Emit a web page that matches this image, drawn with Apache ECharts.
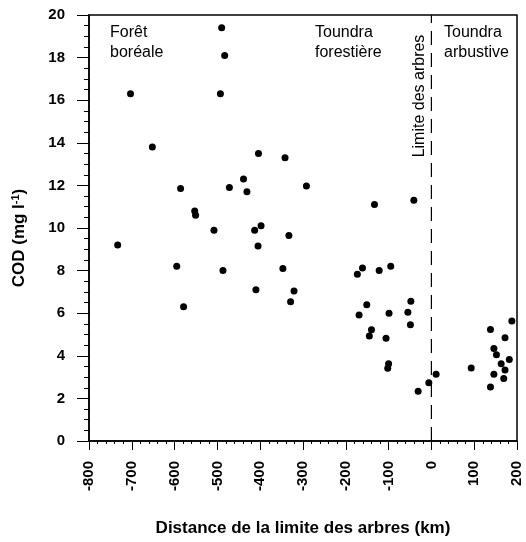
<!DOCTYPE html>
<html>
<head>
<meta charset="utf-8">
<script src="https://cdn.jsdelivr.net/npm/echarts@6/dist/echarts.min.js"></script>
<style>
  html, body { margin: 0; padding: 0; background: #fff; }
  #chart { width: 526px; height: 542px; }
</style>
</head>
<body>
<div id="chart"></div>
<script>
// distance de la limite des arbres (km) / COD (mg l-1)
var borealDist = [-733, -703, -652, -595, -586, -579, -553, -551, -508, -493, -490, -487, -483, -472,
    -439, -431, -413, -410, -405, -404, -398, -347, -342, -333, -329, -321, -292];
var borealCod = [9.2, 16.3, 13.8, 8.2, 11.85, 6.3, 10.8, 10.6, 9.9, 16.3, 19.4, 8.0, 18.1, 11.9,
    12.3, 11.7, 9.9, 7.1, 9.15, 13.5, 10.1, 8.1, 13.3, 9.65, 6.54, 7.04, 11.97];

var forestTundraDist = [-173, -169, -161, -151, -145, -140, -133, -122, -106, -102, -100, -99, -95,
    -55, -49, -48, -41, -31, -6, 11];
var forestTundraCod = [7.83, 5.92, 8.12, 6.4, 4.93, 5.22, 11.1, 8.0, 4.82, 3.41, 3.63, 6.0, 8.2,
    6.05, 5.46, 6.56, 11.3, 2.34, 2.73, 3.13];

var shrubTundraDist = [93, 138, 138, 146, 146, 152, 163, 169, 172, 172, 182, 188];
var shrubTundraCod = [3.43, 5.24, 2.53, 4.34, 3.13, 4.05, 3.63, 2.93, 4.85, 3.33, 3.83, 5.63];

// limite des arbres
var treeLineDist = [0, 0];
var treeLineCod = [0, 20];

var FONT = '"Liberation Sans", Arial, sans-serif';

function pairs(xs, ys) {
    var out = [];
    for (var i = 0; i < xs.length; i++) {
        out.push([xs[i], ys[i]]);
    }
    return out;
}

var chart = echarts.init(document.getElementById('chart'));

var dotStyle = { color: '#000', opacity: 1 };

var option = {
    animation: false,
    backgroundColor: '#fff',
    grid: {
        left: 89, right: 9, top: 15, bottom: 98,
        show: true, borderColor: '#000', borderWidth: 1.5
    },
    xAxis: {
        type: 'value',
        min: -800, max: 200, interval: 100,
        name: 'Distance de la limite des arbres (km)',
        nameLocation: 'middle',
        nameGap: 79,
        nameTextStyle: { fontFamily: FONT, fontSize: 17, fontWeight: 'bold', color: '#000' },
        axisLine: { onZero: false, lineStyle: { color: '#000', width: 1.5 } },
        axisTick: { length: 9, lineStyle: { color: '#000', width: 1 } },
        minorTick: { show: true, splitNumber: 5, length: 3, lineStyle: { color: '#000' } },
        splitLine: { show: false },
        axisLabel: {
            rotate: 90, margin: 20,
            fontFamily: FONT, fontSize: 15, fontWeight: 'bold', color: '#000'
        }
    },
    yAxis: {
        type: 'value',
        min: 0, max: 20, interval: 2,
        name: 'COD (mg l{sup|-1})',
        nameLocation: 'middle',
        nameGap: 60,
        nameTextStyle: {
            fontFamily: FONT, fontSize: 17, fontWeight: 'bold', color: '#000',
            padding: [0, 0, 0, -20],
            rich: { sup: { fontFamily: FONT, fontSize: 11, fontWeight: 'bold', color: '#000', verticalAlign: 'top', padding: [0, 0, 8, 0] } }
        },
        axisLine: { show: true, onZero: false, lineStyle: { color: '#000', width: 1.5 } },
        axisTick: { length: 12, lineStyle: { color: '#000', width: 1 } },
        minorTick: { show: true, splitNumber: 4, length: 5, lineStyle: { color: '#000' } },
        splitLine: { show: false },
        axisLabel: {
            margin: 24,
            fontFamily: FONT, fontSize: 15, fontWeight: 'bold', color: '#000'
        }
    },
    series: [
        {
            name: 'Limite des arbres', type: 'line', silent: true,
            symbol: 'none', z: 1,
            lineStyle: { color: '#000', width: 1.2, type: [14, 8] },
            data: pairs(treeLineDist, treeLineCod)
        },
        {
            name: 'Forêt boréale', type: 'scatter', symbolSize: 7,
            itemStyle: dotStyle,
            data: pairs(borealDist, borealCod)
        },
        {
            name: 'Toundra forestière', type: 'scatter', symbolSize: 7,
            itemStyle: dotStyle,
            data: pairs(forestTundraDist, forestTundraCod)
        },
        {
            name: 'Toundra arbustive', type: 'scatter', symbolSize: 7,
            itemStyle: dotStyle,
            data: pairs(shrubTundraDist, shrubTundraCod)
        }
    ],
    graphic: [
        {
            type: 'text', left: 110, top: 23,
            style: { text: 'Forêt\nboréale', font: '16px ' + FONT, fill: '#000', lineHeight: 20 }
        },
        {
            type: 'text', left: 315, top: 23,
            style: { text: 'Toundra\nforestière', font: '16px ' + FONT, fill: '#000', lineHeight: 20 }
        },
        {
            type: 'text', left: 444, top: 23,
            style: { text: 'Toundra\narbustive', font: '16px ' + FONT, fill: '#000', lineHeight: 20 }
        },
        {
            type: 'text', x: 420, y: 96, rotation: Math.PI / 2,
            style: { text: 'Limite des arbres', font: '16px ' + FONT, fill: '#000', align: 'center', verticalAlign: 'middle' }
        }
    ]
};

chart.setOption(option);
</script>
</body>
</html>
